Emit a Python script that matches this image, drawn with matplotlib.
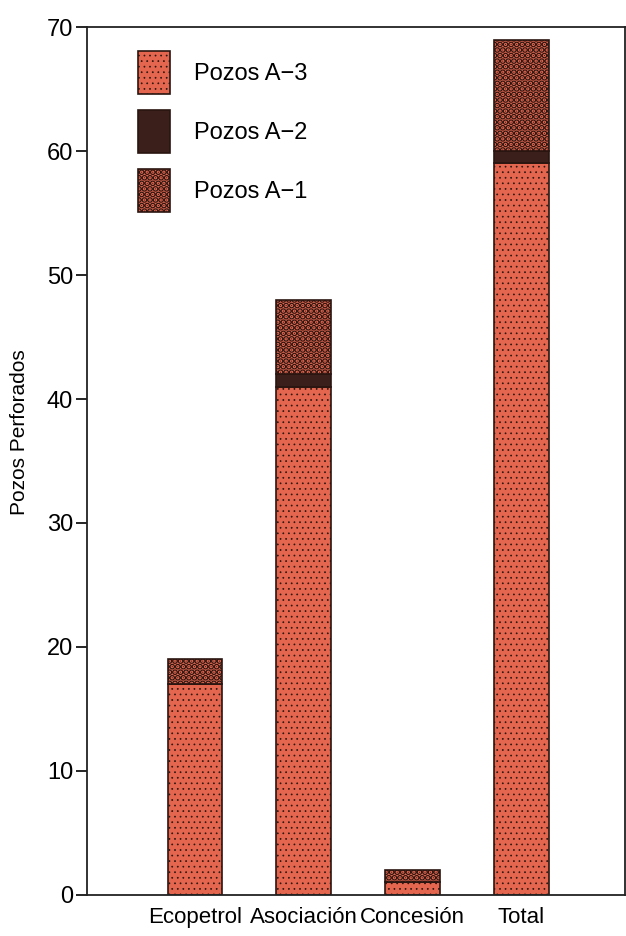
import numpy as np
import matplotlib
matplotlib.use("Agg")
import matplotlib.pyplot as plt

plt.rcParams['font.family'] = ['Liberation Sans', 'DejaVu Sans']
plt.rcParams['hatch.color'] = '#3a1a14'
plt.rcParams['hatch.linewidth'] = 0.5

categories = ['Ecopetrol', 'Asociación', 'Concesión', 'Total']
pozos_a3 = [17, 41, 1, 59]
pozos_a2 = [0, 1, 0, 1]
pozos_a1 = [2, 6, 1, 9]
y_ticks = [0, 10, 20, 30, 40, 50, 60, 70]

red = '#e4664f'
dark = '#3b1f1a'
edge = '#2a1510'

fig = plt.figure(figsize=(6.26, 9.36), dpi=100)
ax = fig.add_axes([0.139, 0.044, 0.859, 0.927])

x = np.arange(len(categories))
w = 0.5
a3 = np.array(pozos_a3)
a2 = np.array(pozos_a2)
a1 = np.array(pozos_a1)

b3 = ax.bar(x, a3, w, color=red, edgecolor=edge, linewidth=1.2,
            hatch='...', label='Pozos A\u22123')
b2 = ax.bar(x, a2, w, bottom=a3, color=dark, edgecolor=edge,
            linewidth=1.2, label='Pozos A\u22122')
b1 = ax.bar(x, a1, w, bottom=a3 + a2, color=red, edgecolor=edge,
            linewidth=1.2, hatch='...', label='Pozos A\u22121')


def thick_dots(p):
    # A-1 segments use bigger dark dots (checker look)
    try:
        p.set_hatch_linewidth(3.2)
    except AttributeError:
        p.set_hatch('oo')


for p in b1:
    thick_dots(p)

ax.set_xlim(-0.99, 3.95)
ax.set_ylim(0, 70)
ax.set_yticks(y_ticks)
ax.set_xticks(x)
ax.set_xticklabels(categories, fontsize=16)
ax.tick_params(axis='x', length=0, pad=9)
ax.tick_params(axis='y', direction='out', length=8, width=1.2, labelsize=17, pad=2)
for s in ax.spines.values():
    s.set_linewidth(1.3)
    s.set_color('#222222')

ax.set_ylabel('Pozos Perforados', fontsize=15)
ax.yaxis.set_label_coords(-0.108, 0.533)

leg = ax.legend(handles=[b3, b2, b1], loc='upper left', frameon=False,
                fontsize=17, handlelength=1.36, handleheight=2.4,
                labelspacing=0.7, handletextpad=1.0,
                bbox_to_anchor=(0.055, 0.997))
thick_dots(leg.legend_handles[2])

fig.savefig('out.png', dpi=100)
